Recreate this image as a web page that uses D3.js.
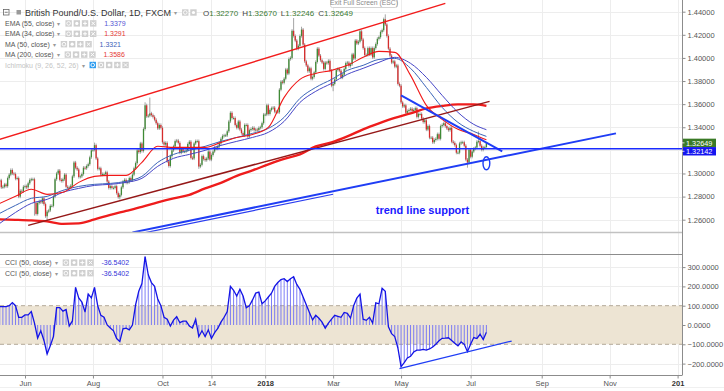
<!DOCTYPE html>
<html>
<head>
<meta charset="utf-8">
<script src="https://cdn.jsdelivr.net/npm/d3@7"></script>
<style>
  body { margin: 0; background: #fff; }
  svg { display: block; font-family: Arial, "Liberation Sans", sans-serif; }
</style>
</head>
<body>
<svg id="chart" width="724" height="391"></svg>
<script>
// ---- data (GBP/USD daily, FXCM) ----
const firstDay = "2017-05-10";

// one close per weekday, from 2017-05-10 to 2018-07-16
const closes = [
  // 2017-05
  1.2940,1.2880,1.2885,1.2905,1.2890,1.2960,1.2990,1.3030,1.3000,1.2995,1.2955,1.2960,1.2800,1.2850,1.2845,1.2885,
  // 2017-06
  1.2890,1.2880,1.2915,1.2945,1.2950,1.2950,1.2745,1.2650,1.2745,1.2760,1.2750,1.2785,1.2735,1.2630,1.2670,1.2680,1.2720,1.2720,1.2800,1.2950,1.3000,1.3025,
  // 2017-07
  1.2945,1.2935,1.2950,1.2990,1.2885,1.2875,1.2880,1.2895,1.2975,1.3095,1.3050,1.3035,1.2970,1.2975,1.2995,1.3050,1.3045,1.3065,1.3080,1.3140,1.3200,
  // 2017-08
  1.3205,1.3245,1.3130,1.3040,1.3045,1.2990,1.2995,1.2995,1.3010,1.2930,1.2875,1.2890,1.2875,1.2875,1.2890,1.2830,1.2795,1.2815,1.2880,1.2930,1.2945,1.2920,1.2925,
  // 2017-09
  1.2960,1.2940,1.2990,1.3045,1.3090,1.3200,1.3185,1.3260,1.3195,1.3385,1.3590,1.3495,1.3500,1.3520,1.3505,1.3490,1.3465,1.3435,1.3390,1.3420,1.3395,
  // 2017-10
  1.3270,1.3250,1.3265,1.3105,1.3065,1.3150,1.3200,1.3235,1.3280,1.3285,1.3265,1.3180,1.3210,1.3190,1.3190,1.3200,1.3255,1.3275,1.3135,1.3130,1.3260,1.3280,
  // 2017-11
  1.3280,1.3060,1.3075,1.3150,1.3125,1.3115,1.3130,1.3190,1.3120,1.3160,1.3190,1.3225,1.3215,1.3235,1.3260,1.3300,1.3325,1.3330,1.3330,1.3365,1.3450,1.3525,
  // 2017-12
  1.3480,1.3480,1.3420,1.3395,1.3450,1.3380,1.3350,1.3330,1.3420,1.3420,1.3320,1.3375,1.3385,1.3395,1.3375,1.3380,1.3375,1.3395,1.3400,1.3435,1.3510,
  // 2018-01
  1.3510,1.3590,1.3515,1.3550,1.3565,1.3570,1.3535,1.3535,1.3530,1.3725,1.3795,1.3785,1.3820,1.3900,1.3865,1.3990,1.4000,1.4235,1.4190,1.4150,1.4080,1.4105,1.4190,
  // 2018-02
  1.4245,1.4115,1.3970,1.3935,1.3885,1.3910,1.3820,1.3835,1.3875,1.3965,1.4080,1.4020,1.3980,1.3960,1.3905,1.3960,1.3955,1.3975,1.3890,1.3760,
  // 2018-03
  1.3775,1.3815,1.3895,1.3905,1.3890,1.3830,1.3855,1.3905,1.3955,1.3960,1.3930,1.3945,1.4030,1.3995,1.4150,1.4125,1.4140,1.4230,1.4160,1.4085,1.4025,1.4025,
  // 2018-04
  1.4085,1.4030,1.4085,1.4005,1.4085,1.4120,1.4165,1.4180,1.4225,1.4240,1.4335,1.4290,1.4190,1.4080,1.4020,1.3960,1.3970,1.3925,1.3935,1.3775,1.3760,
  // 2018-05
  1.3615,1.3580,1.3590,1.3525,1.3540,1.3550,1.3560,1.3540,1.3550,1.3565,1.3490,1.3515,1.3515,1.3475,1.3445,1.3460,1.3380,1.3410,1.3310,1.3310,1.3270,1.3290,1.3300,
  // 2018-06
  1.3340,1.3300,1.3410,1.3420,1.3435,1.3410,1.3390,1.3375,1.3395,1.3275,1.3265,1.3245,1.3180,1.3180,1.3260,1.3270,1.3270,1.3240,1.3120,1.3095,1.3205,
  // 2018-07
  1.3145,1.3190,1.3215,1.3225,1.3275,1.3280,1.3240,1.3205,1.3225,1.3227,1.32649
];

// long wicks that stand out on the chart: [date, high, low]
const wickExtremes = [
  ["2017-06-09", null, 1.2635], ["2017-06-21", null, 1.2590], ["2017-08-02", 1.3267, null],
  ["2017-08-24", null, 1.2775], ["2017-09-15", 1.3616, null], ["2017-09-20", 1.3657, null],
  ["2017-11-02", null, 1.3040], ["2018-01-25", 1.4345, null], ["2018-02-01", 1.4270, null],
  ["2018-03-01", null, 1.3712], ["2018-04-17", 1.4377, null], ["2018-06-28", null, 1.3050],
  ["2018-07-09", 1.3363, null], ["2018-07-16", 1.32670, 1.32246]
];

// moving averages, one value every 10 bars (last value = last bar)
const maStep = 10;
const ema55 = [1.2568,1.2663,1.2741,1.2776,1.2837,1.2871,1.2897,1.2906,1.2923,1.2958,1.3062,1.3131,1.3165,1.3200,1.3243,1.3278,
               1.3312,1.3356,1.3451,1.3615,1.3711,1.3780,1.3858,1.3910,1.3962,1.4005,1.3953,1.3832,1.3676,1.3529,1.3425,1.3379];
const ema34 = [1.2741,1.2802,1.2863,1.2819,1.2837,1.2923,1.2975,1.2984,1.2984,1.3096,1.3235,1.3226,1.3226,1.3226,1.3269,1.3312,
               1.3338,1.3399,1.3659,1.3814,1.3866,1.3892,1.3936,1.4005,1.4057,1.4048,1.3849,1.3589,1.3468,1.3382,1.3338,1.3291];
const ma50  = [1.2655,1.2724,1.2785,1.2802,1.2854,1.2888,1.2906,1.2914,1.2932,1.2975,1.3096,1.3165,1.3200,1.3235,1.3278,1.3312,
               1.3347,1.3390,1.3486,1.3650,1.3745,1.3814,1.3892,1.3936,1.3987,1.3996,1.3910,1.3745,1.3572,1.3442,1.3364,1.3321];
const ma200 = [1.2603,1.2599,1.2594,1.2586,1.2564,1.2568,1.2603,1.2642,1.2676,1.2711,1.2750,1.2785,1.2815,1.2871,1.2919,1.2979,
               1.3027,1.3079,1.3126,1.3165,1.3234,1.3269,1.3321,1.3382,1.3434,1.3481,1.3520,1.3563,1.3585,1.3598,1.3598,1.3586];

// CCI(50), one value every 2 bars
const cciStep = 2;
const cci = [
  95,95,95,100,116,100,40,40,52,52,70,10,-68,-30,-80,-150,-108,-60,90,90,
  72,80,-5,21,195,140,119,67,160,140,195,100,50,40,0,-16,-30,-70,-86,-20,
  -16,-25,0,105,175,215,354,260,220,200,135,100,40,30,-5,25,43,12,20,20,
  -5,-16,30,-60,-30,-60,-25,-70,-40,-18,15,40,70,200,180,150,185,150,90,100,
  130,165,170,110,125,145,165,200,220,235,240,225,240,250,210,185,145,105,65,26,
  50,35,15,-16,10,30,50,45,40,65,60,36,100,140,160,30,24,40,10,115,
  110,190,175,-9,-45,-60,-120,-216,-195,-171,-162,-140,-130,-130,-126,-130,-124,-114,-100,-82,
  -69,-68,-66,-80,-95,-108,-88,-100,-138,-100,-65,-70,-48,-75,-37
];

const priceTicks = [1.26, 1.28, 1.30, 1.32, 1.34, 1.36, 1.38, 1.40, 1.42, 1.44];
const priceLabelTicks = [1.26, 1.28, 1.30, 1.34, 1.36, 1.38, 1.40, 1.42, 1.44]; // 1.32 sits under the price tags
const cciTicks = [300, 200, 100, 0, -100, -200];
const timeTicks = [
  ["2017-06-01", "Jun"], ["2017-08-01", "Aug"], ["2017-10-01", "Oct"], ["2017-11-14", "14"],
  ["2018-01-01", "2018"], ["2018-03-01", "Mar"], ["2018-05-01", "May"], ["2018-07-01", "Jul"],
  ["2018-09-01", "Sep"], ["2018-11-01", "Nov"], ["2019-01-01", "201"]
];

const lastOHLC = { O: "1.32270", H: "1.32670", L: "1.32246", C: "1.32649" };
const lastClose = 1.32649;
const levelLine = 1.32142;
const cciLast = "-36.5402";

const indicatorRows = [
  { name: "EMA (55, close)", value: "1.3379", color: "#5454d4" },
  { name: "EMA (34, close)", value: "1.3291", color: "#e53935" },
  { name: "MA (50, close)", value: "1.3321", color: "#3d62b8" },
  { name: "MA (200, close)", value: "1.3586", color: "#e53935" }
];

// drawings on the chart: [date, price]
const channelTop = [["2017-05-10", 1.3295], ["2018-06-08", 1.4472]];
const channelBottom = [["2017-06-05", 1.2551], ["2018-07-18", 1.3624]];
const supportLine = [["2017-09-05", 1.2490], ["2018-11-07", 1.3347]];
const supportTwin = [["2017-09-15", 1.2488], ["2018-03-01", 1.2820]];
const fallingLine = [["2018-05-01", 1.3676], ["2018-07-30", 1.3191]];
const circleMark = ["2018-07-16", 1.3088];
const noteAnchor = ["2018-04-09", 1.2646];
const noteText = "trend line support";
const cciLine = [["2018-04-30", -226], ["2018-08-07", -83]];

// ---- layout ----
const svg = d3.select("#chart");
const axisX = 682;
const mainBottom = 232;
const cciTop = 254, cciBottom = 375;

// weekday calendar, extended into the future for the time axis
const days = [];
for (let t = Date.parse(firstDay + "T00:00:00Z"); t < Date.parse("2019-02-01T00:00:00Z"); t += 86400000) {
  const wd = new Date(t).getUTCDay();
  if (wd !== 0 && wd !== 6) days.push(new Date(t).toISOString().slice(0, 10));
}
const idxOf = s => d3.bisectLeft(days, s);

const x = d3.scaleLinear().domain([0, closes.length - 1]).range([-0.28, 486.4]);
const y = d3.scaleLinear().domain([1.26, 1.44]).range([219.7, 11.7]);
const yc = d3.scaleLinear().domain([-100, 100]).range([344.3, 305.7]);

const defs = svg.append("defs");
defs.append("clipPath").attr("id", "clipMain").append("rect").attr("x", 0).attr("y", 0).attr("width", axisX).attr("height", mainBottom);
defs.append("clipPath").attr("id", "clipCci").append("rect").attr("x", 0).attr("y", cciTop).attr("width", axisX).attr("height", cciBottom - cciTop);

// grid
const grid = svg.append("g").attr("stroke", "#ededed").attr("stroke-width", 1);
grid.selectAll(".hp").data(priceTicks).join("line")
  .attr("x1", 0).attr("x2", axisX).attr("y1", d => Math.round(y(d)) + 0.5).attr("y2", d => Math.round(y(d)) + 0.5);
grid.selectAll(".hc").data(cciTicks.filter(d => Math.abs(d) !== 100)).join("line")
  .attr("x1", 0).attr("x2", axisX).attr("y1", d => Math.round(yc(d)) + 0.5).attr("y2", d => Math.round(yc(d)) + 0.5);
grid.selectAll(".vt").data(timeTicks).join("line")
  .attr("x1", d => Math.round(x(idxOf(d[0]))) + 0.5).attr("x2", d => Math.round(x(idxOf(d[0]))) + 0.5)
  .attr("y1", 0).attr("y2", cciBottom);

// CCI band
const band = svg.append("g");
band.append("rect").attr("x", 0).attr("width", axisX)
  .attr("y", yc(100)).attr("height", yc(-100) - yc(100)).attr("fill", "#ede4d3");
band.selectAll("line").data([100, -100]).join("line")
  .attr("x1", 0).attr("x2", axisX).attr("y1", d => yc(d)).attr("y2", d => yc(d))
  .attr("stroke", "#b3a898").attr("stroke-dasharray", "4,3");

// ---- main pane ----
const main = svg.append("g").attr("clip-path", "url(#clipMain)");

const extremes = new Map(wickExtremes.map(e => [idxOf(e[0]), e]));
const bars = closes.map((c, i) => ({ i, o: i ? closes[i - 1] : c, c }));
if (bars.length) bars[bars.length - 1].o = +lastOHLC.O;

main.append("g").selectAll("line").data(bars).join("line")
  .attr("x1", d => x(d.i)).attr("x2", d => x(d.i))
  .attr("y1", d => { const e = extremes.get(d.i); return e && e[1] != null ? y(e[1]) : y(Math.max(d.o, d.c)) - 1.6; })
  .attr("y2", d => { const e = extremes.get(d.i); return e && e[2] != null ? y(e[2]) : y(Math.min(d.o, d.c)) + 1.6; })
  .attr("stroke", "#8e8e8e").attr("stroke-width", 0.8);

main.append("g").selectAll("rect").data(bars).join("rect")
  .attr("x", d => x(d.i) - 0.65).attr("width", 1.3)
  .attr("y", d => y(Math.max(d.o, d.c)))
  .attr("height", d => Math.max(0.9, y(Math.min(d.o, d.c)) - y(Math.max(d.o, d.c))))
  .attr("fill", d => d.c >= d.o ? "#3f8a35" : "#d62c2c");

const maLine = d3.line()
  .x((d, j) => x(Math.min(j * maStep, closes.length - 1)))
  .y(d => y(d))
  .curve(d3.curveMonotoneX);
const maSeries = [
  { data: ma200, color: "#ee1c1c", w: 2.3 },
  { data: ma50, color: "#3a64b8", w: 1 },
  { data: ema55, color: "#4646c8", w: 1 },
  { data: ema34, color: "#f01818", w: 1.1 }
];
main.append("g").selectAll("path").data(maSeries).join("path")
  .attr("d", d => maLine(d.data)).attr("fill", "none")
  .attr("stroke", d => d.color).attr("stroke-width", d => d.w);

// drawings
const pt = p => [x(idxOf(p[0])), y(p[1])];
const seg = (g, pts, color, w) => g.append("line")
  .attr("x1", pt(pts[0])[0]).attr("y1", pt(pts[0])[1])
  .attr("x2", pt(pts[1])[0]).attr("y2", pt(pts[1])[1])
  .attr("stroke", color).attr("stroke-width", w);

const draw = main.append("g");
seg(draw, channelTop, "#f21c1c", 1.5);
seg(draw, channelBottom, "#951818", 1.5);
seg(draw, supportTwin, "#2a3cf0", 1.2);
seg(draw, supportLine, "#1f3df5", 2);
seg(draw, fallingLine, "#1f3df5", 2);
draw.append("line").attr("x1", 0).attr("x2", axisX)
  .attr("y1", y(levelLine)).attr("y2", y(levelLine))
  .attr("stroke", "#1a2bff").attr("stroke-width", 1.4);
draw.append("ellipse")
  .attr("cx", pt(circleMark)[0]).attr("cy", pt(circleMark)[1])
  .attr("rx", 3.4).attr("ry", 6.5)
  .attr("fill", "none").attr("stroke", "#1f3df5").attr("stroke-width", 1.4);
draw.append("text")
  .attr("x", pt(noteAnchor)[0]).attr("y", pt(noteAnchor)[1])
  .attr("font-size", 11).attr("font-weight", "bold").attr("fill", "#1a1aff")
  .text(noteText);

// ---- CCI pane ----
const cciG = svg.append("g").attr("clip-path", "url(#clipCci)");
const cciPts = cci.map((v, k) => ({ i: Math.min(k * cciStep, closes.length - 1), v }));
cciG.append("g").selectAll("line").data(cciPts).join("line")
  .attr("x1", d => x(d.i)).attr("x2", d => x(d.i))
  .attr("y1", yc(0)).attr("y2", d => yc(d.v))
  .attr("stroke", "#6f6ff5").attr("stroke-width", 0.9);
cciG.append("path")
  .attr("d", d3.line().x(d => x(d.i)).y(d => yc(d.v))(cciPts))
  .attr("fill", "none").attr("stroke", "#1414e6").attr("stroke-width", 1.3);
cciG.append("line")
  .attr("x1", x(idxOf(cciLine[0][0]))).attr("y1", yc(cciLine[0][1]))
  .attr("x2", x(idxOf(cciLine[1][0]))).attr("y2", yc(cciLine[1][1]))
  .attr("stroke", "#1f3df5").attr("stroke-width", 1.3);

// ---- frame ----
svg.append("line").attr("x1", 0).attr("x2", axisX).attr("y1", mainBottom + 0.5).attr("y2", mainBottom + 0.5)
  .attr("stroke", "#c2c2c2").attr("stroke-width", 1.5);
svg.append("line").attr("x1", 0).attr("x2", axisX).attr("y1", cciTop + 0.5).attr("y2", cciTop + 0.5)
  .attr("stroke", "#8c8c8c").attr("stroke-width", 1);
svg.append("line").attr("x1", 0).attr("x2", axisX + 0.5).attr("y1", cciBottom + 0.5).attr("y2", cciBottom + 0.5)
  .attr("stroke", "#8c8c8c").attr("stroke-width", 1);
svg.append("line").attr("x1", axisX + 0.5).attr("x2", axisX + 0.5).attr("y1", 0).attr("y2", cciBottom)
  .attr("stroke", "#8c8c8c").attr("stroke-width", 1);
svg.append("line").attr("x1", 0).attr("x2", 724).attr("y1", 387.5).attr("y2", 387.5)
  .attr("stroke", "#f0f0f0");

// axes
const styleAxis = g => {
  g.select(".domain").remove();
  g.selectAll(".tick line").attr("stroke", "#8c8c8c");
  g.selectAll(".tick text").attr("fill", "#555").attr("font-size", 7.5)
    .attr("font-family", "Arial, 'Liberation Sans', sans-serif");
};
svg.append("g").attr("transform", `translate(${axisX + 0.5},0)`)
  .call(d3.axisRight(y).tickValues(priceLabelTicks).tickFormat(d3.format(".5f")).tickSize(3).tickPadding(2))
  .call(styleAxis);
svg.append("g").attr("transform", `translate(${axisX + 0.5},0)`)
  .call(d3.axisRight(yc).tickValues(cciTicks).tickFormat(d3.format(".4f")).tickSize(3).tickPadding(2))
  .call(styleAxis);
svg.append("g").attr("transform", `translate(0,${cciBottom + 0.5})`)
  .call(d3.axisBottom(x).tickValues(timeTicks.map(t => idxOf(t[0])))
    .tickFormat((d, i) => timeTicks[i][1]).tickSize(3).tickPadding(2))
  .call(styleAxis)
  .call(g => g.selectAll(".tick text").attr("font-weight", (d, i) => /^\d{3,}/.test(timeTicks[i][1]) ? "bold" : null)
    .attr("fill", (d, i) => /^\d{3,}/.test(timeTicks[i][1]) ? "#333" : "#555"));

// price tags on the axis: last close on top, level line tag pushed just below it
const tagH = 8.4;
const tag = (val, cy, fill) => {
  const g = svg.append("g").attr("transform", `translate(${axisX + 1},${cy})`);
  g.append("rect").attr("x", 0).attr("y", -tagH / 2).attr("width", 33).attr("height", tagH).attr("fill", fill);
  g.append("text").attr("x", 3).attr("y", 2.7).attr("font-size", 7.3).attr("fill", "#fff").text(val.toFixed(5));
  g.append("line").attr("x1", -1).attr("x2", 1.5).attr("y1", 0).attr("y2", 0).attr("stroke", "#fff").attr("stroke-width", 0.8);
};
const closeY = y(lastClose);
tag(lastClose, closeY, "#3a7a26");
tag(levelLine, Math.max(y(levelLine), closeY + tagH), "#1515f0");

// ---- legend ----
const leg = svg.append("g").attr("font-family", "Arial, 'Liberation Sans', sans-serif");

function icons(g, x0, yTop, n, firstBlue) {
  for (let k = 0; k < n; k++) {
    const ix = x0 + k * 8.2;
    const blue = firstBlue && k === 0;
    g.append("rect").attr("x", ix).attr("y", yTop).attr("width", 6.4).attr("height", 6.4)
      .attr("fill", blue ? "#2d9cf0" : "#cfcfcf");
    const kind = (firstBlue ? k - 1 : k) % 4;
    const cx = ix + 3.2, cy = yTop + 3.2;
    if (blue || kind === 0) {
      g.append("circle").attr("cx", cx).attr("cy", cy).attr("r", 1.8).attr("fill", "none").attr("stroke", "#fff").attr("stroke-width", 0.9);
    } else if (kind === 1) {
      g.append("circle").attr("cx", cx).attr("cy", cy).attr("r", 1.6).attr("fill", "#fff");
    } else if (kind === 2) {
      g.append("path").attr("d", `M${cx - 2},${cy}H${cx + 2}M${cx},${cy - 2}V${cy + 2}`).attr("stroke", "#fff").attr("stroke-width", 1);
    } else {
      g.append("path").attr("d", `M${cx - 1.7},${cy - 1.7}L${cx + 1.7},${cy + 1.7}M${cx + 1.7},${cy - 1.7}L${cx - 1.7},${cy + 1.7}`).attr("stroke", "#fff").attr("stroke-width", 1);
    }
  }
  return x0 + n * 8.2;
}

function row(g, baseY, name, nameColor, value, valueColor, nIcons, firstBlue) {
  const t = g.append("text").attr("x", 5).attr("y", baseY).attr("font-size", 7).attr("fill", nameColor).text(name);
  const w = t.node().getComputedTextLength();
  g.append("text").attr("x", 5 + w + 3).attr("y", baseY).attr("font-size", 6).attr("fill", "#999").text("\u25BE");
  const end = icons(g, 5 + w + 11, baseY - 5.8, nIcons, firstBlue);
  if (value) g.append("text").attr("x", end + 6).attr("y", baseY).attr("font-size", 7).attr("fill", valueColor).text(value);
}

// title row
leg.append("rect").attr("x", 3.5).attr("y", 9.5).attr("width", 5.5).attr("height", 5.5)
  .attr("fill", "none").attr("stroke", "#666").attr("stroke-width", 0.8);
leg.append("line").attr("x1", 4.8).attr("x2", 7.7).attr("y1", 12.25).attr("y2", 12.25).attr("stroke", "#666").attr("stroke-width", 0.8);
leg.append("rect").attr("x", 16.5).attr("y", 10).attr("width", 4.5).attr("height", 4.5).attr("fill", "#9a9a9a");
const title = leg.append("text").attr("x", 25).attr("y", 15.6).attr("font-size", 9).attr("fill", "#333")
  .text("British Pound/U.S. Dollar, 1D, FXCM");
const tw = title.node().getComputedTextLength();
leg.append("text").attr("x", 25 + tw + 3).attr("y", 15.4).attr("font-size", 6).attr("fill", "#999").text("\u25BE");
icons(leg, 25 + tw + 11, 9.3, 2, false);
let ohlcX = 203;
Object.keys(lastOHLC).forEach(k => {
  const t = leg.append("text").attr("x", ohlcX).attr("y", 15.6).attr("font-size", 8);
  t.append("tspan").attr("fill", "#444").text(k);
  t.append("tspan").attr("fill", "#3b7a32").text(lastOHLC[k]);
  ohlcX += t.node().getComputedTextLength() + 4;
});

indicatorRows.forEach((r, k) => row(leg, 26 + k * 10.4, r.name, "#555", r.value, r.color, 4, false));
row(leg, 67.6, "Ichimoku (9, 26, 52, 26)", "#c4c4c4", null, null, 5, true);

row(leg, 265.2, "CCI (50, close)", "#555", cciLast, "#3434d8", 4, false);
row(leg, 275.8, "CCI (50, close)", "#555", cciLast, "#3434d8", 4, false);

// full-screen hint
const hint = svg.append("g");
hint.append("rect").attr("x", 330.5).attr("y", -4).attr("width", 67).attr("height", 11.5).attr("rx", 2)
  .attr("fill", "#fff").attr("stroke", "#d4d4d4");
hint.append("text").attr("x", 364).attr("y", 5).attr("text-anchor", "middle")
  .attr("font-size", 6.8).attr("fill", "#8a8a8a").text("Exit Full Screen (ESC)");
</script>
</body>
</html>
